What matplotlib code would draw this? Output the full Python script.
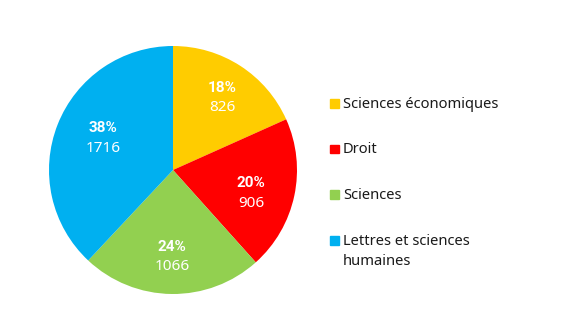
import matplotlib
matplotlib.use('Agg')
import matplotlib.pyplot as plt
import numpy as np
from matplotlib.patches import Rectangle

CATEGORIES = ['Sciences économiques', 'Droit', 'Sciences', 'Lettres et sciences\nhumaines']
VALUES = [826, 906, 1066, 1716]
COLORS = ['#FFCC00', '#FF0000', '#92D050', '#00B0F0']
# label placement per slice: distance from centre (fraction of radius), angle shift (deg)
LABEL_R = [0.706, 0.656, 0.70, 0.62]
LABEL_DA = [-1.2, -4.3, 0.0, -3.0]

W, H = 565, 328
plt.rcParams['font.family'] = ['Noto Sans', 'DejaVu Sans']

fig = plt.figure(figsize=(W / 100, H / 100), dpi=100)
cx, cy, rad = 173, 158, 124  # pie centre/radius in pixels (cy from bottom)
ax = fig.add_axes([(cx - rad) / W, (cy - rad) / H, 2 * rad / W, 2 * rad / H])

wedges, _ = ax.pie(VALUES, colors=COLORS, startangle=90, counterclock=False,
                   radius=1, wedgeprops=dict(linewidth=0))
ax.set_xlim(-1, 1)
ax.set_ylim(-1, 1)
ax.set_aspect('equal')
ax.axis('off')

total = sum(VALUES)
for w, v, r, da in zip(wedges, VALUES, LABEL_R, LABEL_DA):
    ang = np.deg2rad((w.theta1 + w.theta2) / 2 + da)
    x, y = r * np.cos(ang), r * np.sin(ang)
    ax.text(x, y + 0.08, f'{round(v / total * 100)}%', ha='center', va='center',
            color='white', fontsize=11, fontweight='bold', family=['Roboto', 'DejaVu Sans'])
    ax.text(x, y - 0.082, f'{v}', ha='center', va='center',
            color='white', fontsize=11)

# legend
lx, ly0, step = 330, 328 - 103.5, 45.7
for i, (lab, col) in enumerate(zip(CATEGORIES, COLORS)):
    y = ly0 - i * step
    fig.patches.append(Rectangle((lx / W, (y - 4) / H), 9 / W, 8.5 / H,
                                 transform=fig.transFigure, color=col, figure=fig))
    fig.text((lx + 13) / W, (y + 7) / H, lab, ha='left', va='top',
             fontsize=10.6, color='#1a1a1a', linespacing=1.45)

fig.savefig('out.png', dpi=100)
